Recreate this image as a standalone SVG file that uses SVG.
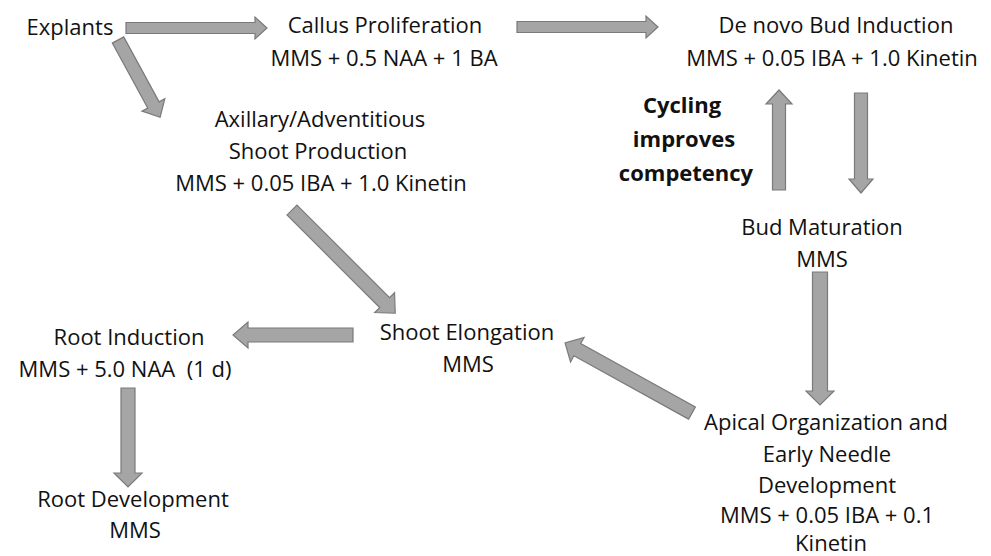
<svg xmlns="http://www.w3.org/2000/svg" width="991" height="556" viewBox="0 0 991 556">
<style>
.t{font-family:"Open Sans","Liberation Sans",sans-serif;font-size:22px;fill:#111;text-anchor:middle}
.b{font-weight:bold}
.a{fill:#a5a5a5;stroke:#7a7a7a;stroke-width:1.2;stroke-linejoin:miter}
</style>
<rect width="991" height="556" fill="#fff"/>
<g id="connectors">
<polygon class="a" transform="translate(126,28)" points="0,-5.5 129,-5.5 129,-11 141,0 129,11 129,5.5 0,5.5"/>
<polygon class="a" transform="translate(517,27)" points="0,-5.5 129,-5.5 129,-11 141,0 129,11 129,5.5 0,5.5"/>
<polygon class="a" transform="translate(118,40) rotate(61.4)" points="0,-6.5 74,-6.5 74,-13 88,0 74,13 74,6.5 0,6.5"/>
<polygon class="a" transform="translate(779,190) rotate(-90)" points="0,-6.5 86,-6.5 86,-13 100,0 86,13 86,6.5 0,6.5"/>
<polygon class="a" transform="translate(861,93) rotate(90)" points="0,-6.5 86,-6.5 86,-12 100,0 86,12 86,6.5 0,6.5"/>
<polygon class="a" transform="translate(820,272) rotate(90)" points="0,-7.5 119,-7.5 119,-14 133,0 119,14 119,7.5 0,7.5"/>
<polygon class="a" transform="translate(692,413) rotate(208.9)" points="0,-7 131,-7 131,-14 145,0 131,14 131,7 0,7"/>
<polygon class="a" transform="translate(292,210) rotate(45)" points="0,-7 131,-7 131,-14 146,0 131,14 131,7 0,7"/>
<polygon class="a" transform="translate(353,335) rotate(180)" points="0,-7 105,-7 105,-13 120,0 105,13 105,7 0,7"/>
<polygon class="a" transform="translate(128,388) rotate(90)" points="0,-7 85,-7 85,-14 99,0 85,14 85,7 0,7"/>
</g>
<g id="explants"><text class="t" x="70" y="35">Explants</text></g>
<g id="callus"><text class="t" x="385" y="33">Callus Proliferation</text><text class="t" x="384" y="66">MMS + 0.5 NAA + 1 BA</text></g>
<g id="denovo"><text class="t" x="836" y="33">De novo Bud Induction</text><text class="t" x="832" y="66">MMS + 0.05 IBA + 1.0 Kinetin</text></g>
<g id="axillary"><text class="t" x="320" y="127">Axillary/Adventitious</text><text class="t" x="318" y="159">Shoot Production</text><text class="t" x="321" y="191">MMS + 0.05 IBA + 1.0 Kinetin</text></g>
<g id="cycling"><text class="t b" x="682" y="113">Cycling</text><text class="t b" x="684" y="147">improves</text><text class="t b" x="686" y="181">competency</text></g>
<g id="budmat"><text class="t" x="822" y="235">Bud Maturation</text><text class="t" x="822" y="267">MMS</text></g>
<g id="elong"><text class="t" x="467" y="340">Shoot Elongation</text><text class="t" x="468" y="372">MMS</text></g>
<g id="rootind"><text class="t" x="129" y="345">Root Induction</text><text class="t" x="125" y="377" xml:space="preserve">MMS + 5.0 NAA  (1 d)</text></g>
<g id="apical"><text class="t" x="826" y="430">Apical Organization and</text><text class="t" x="827" y="462">Early Needle</text><text class="t" x="827" y="493">Development</text><text class="t" x="827" y="523">MMS + 0.05 IBA + 0.1</text><text class="t" x="831" y="551">Kinetin</text></g>
<g id="rootdev"><text class="t" x="133" y="507">Root Development</text><text class="t" x="135" y="538">MMS</text></g>
</svg>
